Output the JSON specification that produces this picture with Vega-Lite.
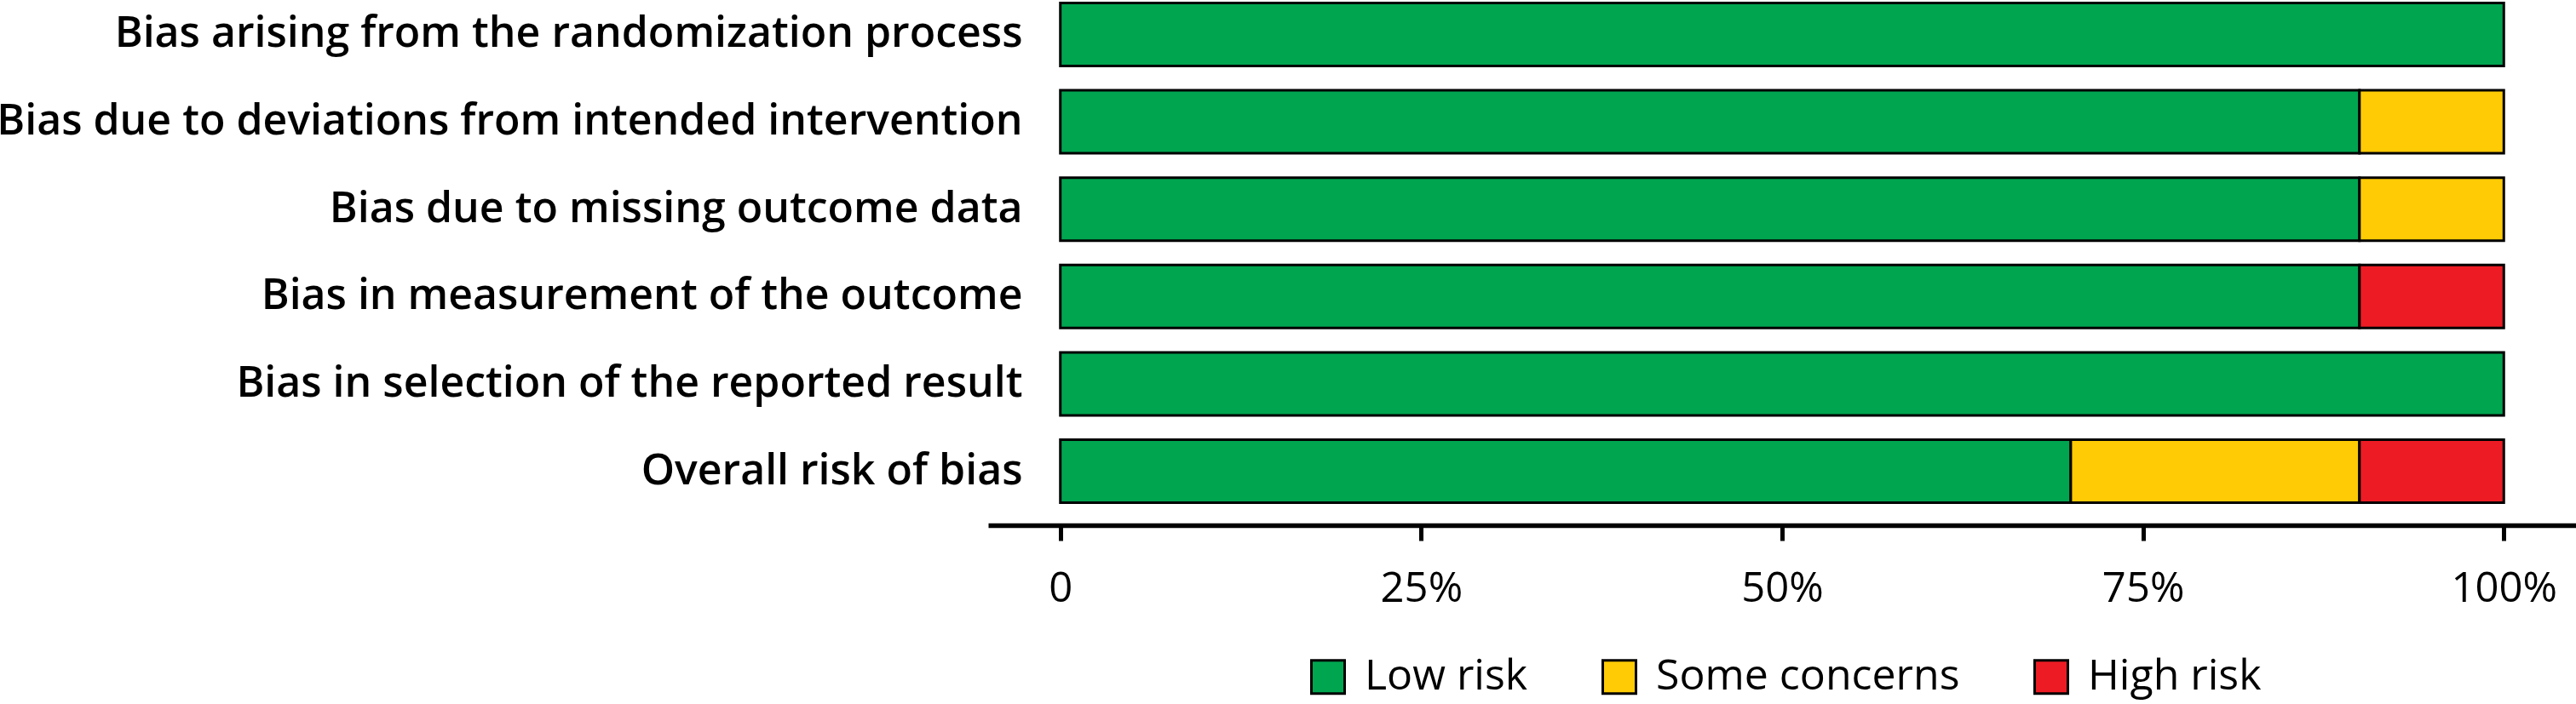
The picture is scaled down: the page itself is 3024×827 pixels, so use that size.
{
  "$schema": "https://vega.github.io/schema/vega-lite/v6.json",
  "autosize": "none",
  "width": 1864,
  "height": 617,
  "padding": {"left": 1160, "top": 0, "right": 0, "bottom": 210},
  "background": "white",
  "data": {"values": [
    {"domain": "Bias arising from the randomization process", "risk": "Low risk", "k": 1, "pct": 100},
    {"domain": "Bias due to deviations from intended intervention", "risk": "Low risk", "k": 1, "pct": 90},
    {"domain": "Bias due to deviations from intended intervention", "risk": "Some concerns", "k": 2, "pct": 10},
    {"domain": "Bias due to missing outcome data", "risk": "Low risk", "k": 1, "pct": 90},
    {"domain": "Bias due to missing outcome data", "risk": "Some concerns", "k": 2, "pct": 10},
    {"domain": "Bias in measurement of the outcome", "risk": "Low risk", "k": 1, "pct": 90},
    {"domain": "Bias in measurement of the outcome", "risk": "High risk", "k": 3, "pct": 10},
    {"domain": "Bias in selection of the reported result", "risk": "Low risk", "k": 1, "pct": 100},
    {"domain": "Overall risk of bias", "risk": "Low risk", "k": 1, "pct": 70},
    {"domain": "Overall risk of bias", "risk": "Some concerns", "k": 2, "pct": 20},
    {"domain": "Overall risk of bias", "risk": "High risk", "k": 3, "pct": 10}
  ]},
  "mark": {"type": "bar", "stroke": "black", "strokeWidth": 3},
  "encoding": {
    "y": {
      "field": "domain", "type": "nominal", "sort": null, "title": null,
      "scale": {"paddingInner": 0.279, "paddingOuter": 0.146, "align": 0.117},
      "axis": {"domain": false, "ticks": false, "tickSize": 0, "labelPadding": -40, "labelFont": "Open Sans", "labelFontWeight": 600, "labelFontSize": 50, "labelColor": "black", "labelLimit": 2000, "grid": false}
    },
    "x": {
      "field": "pct", "type": "quantitative", "stack": true, "title": null,
      "scale": {"domain": [-5, 105], "nice": false, "zero": false},
      "axis": {"values": [0, 25, 50, 75, 100], "labelExpr": "datum.value == 0 ? '0' : datum.value + '%'", "grid": false, "domainColor": "black", "domainWidth": 5.5, "tickColor": "black", "tickWidth": 5, "tickSize": 18, "labelPadding": 32, "labelFont": "Open Sans", "labelFontSize": 49, "labelColor": "black", "labelFlush": false, "labelOverlap": false}
    },
    "color": {
      "field": "risk", "type": "nominal", "title": null,
      "scale": {"domain": ["Low risk", "Some concerns", "High risk"], "range": ["#00A550", "#FFCB05", "#ED1C24"]},
      "legend": {"orient": "none", "direction": "horizontal", "legendX": 374, "legendY": 770, "padding": 0, "symbolType": "square", "symbolSize": 1520, "symbolStrokeColor": "black", "symbolStrokeWidth": 3, "symbolOpacity": 1, "labelFont": "Open Sans", "labelFontSize": 50, "labelColor": "black", "labelOffset": 18, "columnPadding": 81, "labelLimit": 1000}
    },
    "order": {"field": "k", "type": "quantitative"}
  },
  "config": {"view": {"stroke": null}}
}
